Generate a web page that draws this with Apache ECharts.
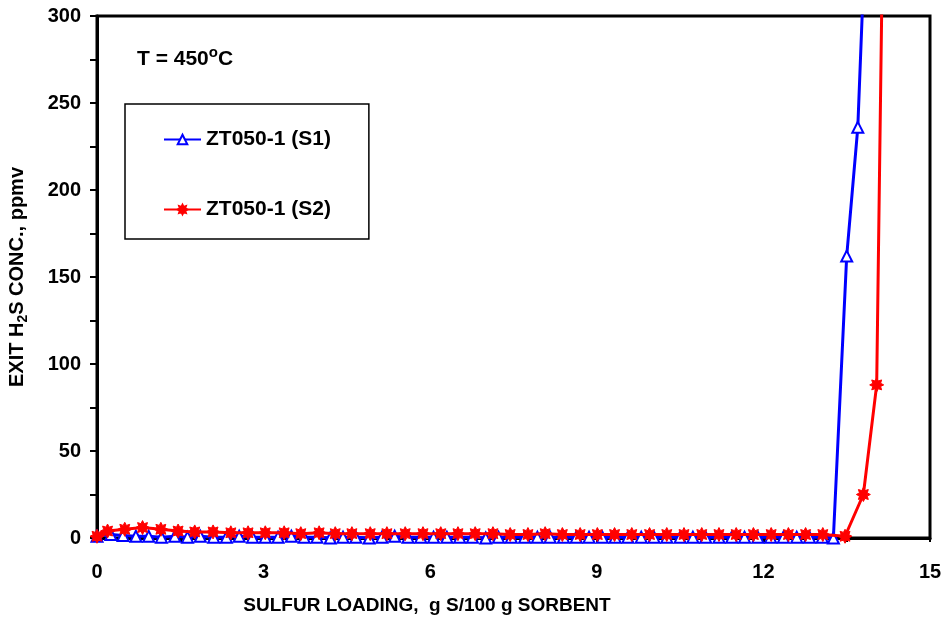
<!DOCTYPE html>
<html>
<head>
<meta charset="utf-8">
<script src="https://cdn.jsdelivr.net/npm/echarts@6/dist/echarts.min.js"></script>
<style>
  html, body { margin: 0; padding: 0; background: #fff; }
  #chart { width: 946px; height: 624px; }
</style>
</head>
<body>
<div id="chart"></div>
<script>
// sulfur loading (g S/100 g sorbent) and exit H2S (ppmv)
var s1Loading = [
    0, 0.25, 0.47, 0.7, 0.93, 1.16, 1.4, 1.63, 1.86, 2.1,
    2.33, 2.56, 2.8, 3.03, 3.26, 3.5, 3.73, 3.96, 4.2, 4.43,
    4.66, 4.9, 5.13, 5.36, 5.6, 5.83, 6.06, 6.3, 6.53, 6.76,
    7.0, 7.23, 7.46, 7.7, 7.93, 8.16, 8.4, 8.63, 8.86, 9.1,
    9.33, 9.56, 9.8, 10.03, 10.26, 10.5, 10.73, 10.96, 11.2, 11.43,
    11.66, 11.9, 12.13, 12.36, 12.6, 12.83, 13.06, 13.26, 13.5, 13.7,
    13.9
];
var s1H2S = [
    1, 2, 1.5, 1, 1, 0.5, 1, 0.5, 1, 0.5,
    0.5, 1, 0.5, 0.5, 0.5, 1, 0.5, 0.5, 0, 0.5,
    0.5, 0, 0.5, 1, 0.5, 0.5, 0.5, 0.5, 0.5, 0.5,
    0, 0.5, 0.5, 0.5, 0.5, 0.5, 0.5, 0.5, 0.5, 0.5,
    0.5, 0.5, 0.5, 0.5, 0.5, 0.5, 0.5, 0.5, 0.5, 0.5,
    0.5, 0.5, 0.5, 0.5, 0.5, 0.5, 0.5, 0, 162, 236,
    400
];
var s2Loading = [
    0, 0.19, 0.5, 0.82, 1.15, 1.46, 1.76, 2.09, 2.41, 2.72,
    3.03, 3.37, 3.67, 4.0, 4.29, 4.59, 4.92, 5.22, 5.55, 5.87,
    6.19, 6.5, 6.81, 7.13, 7.44, 7.76, 8.07, 8.38, 8.7, 9.01,
    9.32, 9.63, 9.95, 10.26, 10.57, 10.89, 11.2, 11.51, 11.82, 12.14,
    12.45, 12.76, 13.07, 13.47, 13.8, 14.04, 14.2
];
var s2H2S = [
    1, 4, 5, 6, 5, 4, 3.5, 3.5, 3, 3,
    3, 3, 2.5, 3, 2.5, 2.5, 2.5, 2.5, 2.5, 2.5,
    2.5, 2.5, 2.5, 2.5, 2, 2, 2.5, 2, 2, 2,
    2, 2, 2, 2, 2, 2, 2, 2, 2, 2,
    2, 2, 2, 1, 25, 88, 470
];
var seriesNames = ['ZT050-1 (S1)', 'ZT050-1 (S2)'];

function pairs(xs, ys) {
    var out = [];
    for (var i = 0; i < xs.length; i++) out.push([xs[i], ys[i]]);
    return out;
}

var font = 'Liberation Sans, Arial, sans-serif';
var starPath = 'path://M10,0 L5.54,2.3 L7.07,7.07 L2.3,5.54 L0,10 L-2.3,5.54 L-7.07,7.07 L-5.54,2.3 L-10,0 L-5.54,-2.3 L-7.07,-7.07 L-2.3,-5.54 L0,-10 L2.3,-5.54 L7.07,-7.07 L5.54,-2.3 Z';

var myChart = echarts.init(document.getElementById('chart'));
myChart.setOption({
    animation: false,
    backgroundColor: '#fff',
    grid: {
        left: 97, right: 16, top: 16, bottom: 86,
        outerBoundsMode: 'none',
        show: true, borderColor: '#000', borderWidth: 3
    },
    legend: {
        orient: 'vertical',
        left: 125, top: 104,
        padding: [25, 38, 19, 38],
        itemWidth: 37, itemHeight: 12, itemGap: 49,
        borderColor: '#000', borderWidth: 1.5,
        textStyle: { fontFamily: font, fontWeight: 'bold', fontSize: 21, color: '#000' },
        data: seriesNames
    },
    graphic: [
        {
            type: 'text', left: 137, top: 45,
            style: {
                text: 'T = 450{sup|o}C',
                font: 'bold 21px ' + font,
                fill: '#000',
                rich: { sup: { fontFamily: font, fontWeight: 'bold', fontSize: 15, verticalAlign: 'bottom', padding: [0, 0, 13, 0] } }
            }
        },
        {
            // x axis title sits left of the plot centre in the original
            type: 'text', x: 427, y: 606,
            style: {
                text: 'SULFUR LOADING,  g S/100 g SORBENT',
                font: 'bold 19px ' + font,
                fill: '#000', align: 'center', verticalAlign: 'middle'
            }
        }
    ],
    xAxis: {
        type: 'value', min: 0, max: 15, interval: 3,
        axisLine: { lineStyle: { color: '#000', width: 3 } },
        axisTick: { length: 4, lineStyle: { color: '#000', width: 2 } },
        minorTick: { show: true, splitNumber: 2, length: 4, lineStyle: { color: '#000', width: 2 } },
        axisLabel: { margin: 24, fontFamily: font, fontWeight: 'bold', fontSize: 20, color: '#000' },
        splitLine: { show: false }
    },
    yAxis: {
        type: 'value', min: 0, max: 300, interval: 50,
        name: 'EXIT H{sub|2}S CONC., ppmv',
        nameLocation: 'middle', nameGap: 67, nameRotate: 90,
        nameTextStyle: {
            fontFamily: font, fontWeight: 'bold', fontSize: 20, color: '#000',
            rich: { sub: { fontFamily: font, fontWeight: 'bold', fontSize: 14, color: '#000', verticalAlign: 'top', padding: [11, 0, 0, 0] } }
        },
        axisLine: { lineStyle: { color: '#000', width: 3 } },
        axisTick: { length: 7, lineStyle: { color: '#000', width: 2 } },
        minorTick: { show: true, splitNumber: 2, length: 7, lineStyle: { color: '#000', width: 2 } },
        axisLabel: { margin: 16, fontFamily: font, fontWeight: 'bold', fontSize: 20, color: '#000' },
        splitLine: { show: false }
    },
    series: [
        {
            name: seriesNames[0], type: 'line',
            data: pairs(s1Loading, s1H2S),
            symbol: 'triangle', symbolSize: 11,
            lineStyle: { color: '#0000ff', width: 3 },
            itemStyle: { color: '#fff', borderColor: '#0000ff', borderWidth: 2 },
            clip: true, z: 2
        },
        {
            name: seriesNames[1], type: 'line',
            data: pairs(s2Loading, s2H2S),
            symbol: starPath, symbolSize: 14,
            lineStyle: { color: '#ff0000', width: 3 },
            itemStyle: { color: '#ff0000', borderColor: '#ff0000', borderWidth: 1 },
            clip: true, z: 3
        }
    ]
});
window.onresize = myChart.resize;
</script>
</body>
</html>
